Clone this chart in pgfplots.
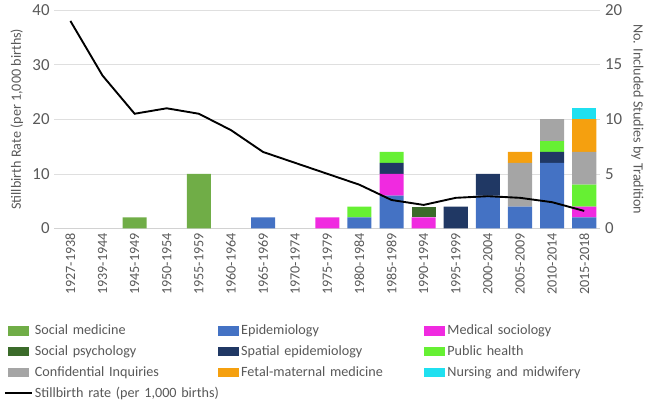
\documentclass[border=0pt]{standalone}
\usepackage{fontspec}
\setmainfont{Carlito}
\usepackage{pgfplots}
\usepackage{pgfplotstable}
\pgfplotsset{compat=1.18}
\definecolor{socmed}{HTML}{70AD47}
\definecolor{epi}{HTML}{4472C4}
\definecolor{medsoc}{HTML}{F02AE0}
\definecolor{socpsy}{HTML}{3B6B2A}
\definecolor{spatial}{HTML}{203864}
\definecolor{pubh}{HTML}{66F033}
\definecolor{confi}{HTML}{A5A5A5}
\definecolor{fetal}{HTML}{F5A00F}
\definecolor{nurse}{HTML}{1FE0F0}
\definecolor{txt}{HTML}{595959}
\pgfplotstableread{
x  sm epi ms sp spa ph ci fm nm rate
0  0  0   0  0  0   0  0  0  0  38
1  0  0   0  0  0   0  0  0  0  28
2  1  0   0  0  0   0  0  0  0  21
3  0  0   0  0  0   0  0  0  0  22
4  5  0   0  0  0   0  0  0  0  21
5  0  0   0  0  0   0  0  0  0  18
6  0  1   0  0  0   0  0  0  0  14
7  0  0   0  0  0   0  0  0  0  12
8  0  0   1  0  0   0  0  0  0  10
9  0  1   0  0  0   1  0  0  0  8
10 0  3   2  0  1   1  0  0  0  5.2
11 0  0   1  1  0   0  0  0  0  4.3
12 0  0   0  0  2   0  0  0  0  5.6
13 0  3   0  0  2   0  0  0  0  5.9
14 0  2   0  0  0   0  4  1  0  5.6
15 0  6   0  0  1   1  2  0  0  4.8
16 0  1   1  0  0   2  3  3  1  3.2
}\data
\begin{document}
\begin{tikzpicture}
\begin{axis}[
  scale only axis, width=405pt, height=162pt,
  xmin=-0.5, xmax=16.5, ymin=0, ymax=20,
  axis y line*=right, axis x line*=bottom,
  y axis line style={draw=none},
  x axis line style={draw=gray!35},
  major tick length=0pt,
  ytick={0,5,10,15,20},
  ymajorgrids, grid style={gray!25},
  ybar stacked, bar width=0.75,
  xtick={0,...,16},
  xticklabels={1927-1938,1939-1944,1945-1949,1950-1954,1955-1959,1960-1964,1965-1969,1970-1974,1975-1979,1980-1984,1985-1989,1990-1994,1995-1999,2000-2004,2005-2009,2010-2014,2015-2018},
  x tick label style={rotate=90, anchor=east, font=\fontsize{10.5}{12}\selectfont, text=txt},
  y tick label style={font=\fontsize{12.5}{14}\selectfont, text=txt},
  /pgf/number format/assume math mode=true,
  ylabel={No. Included Studies by Tradition},
  ylabel style={rotate=180, font=\fontsize{10.5}{12}\selectfont, text=txt},
  legend columns=3,
  legend cell align=left,
  legend style={draw=none, at={(-0.10,-0.42)}, anchor=north west, font=\fontsize{10.5}{12}\selectfont, text=txt,
    nodes={text width=134pt, inner sep=1.5pt}, row sep=3.5pt},
  legend image code/.code={\fill[#1] (0pt,-3.5pt) rectangle (16pt,3.5pt);},
]
\addplot+[fill=socmed, draw=none] table[x=x, y=sm] {\data};
\addplot+[fill=epi, draw=none] table[x=x, y=epi] {\data};
\addplot+[fill=medsoc, draw=none] table[x=x, y=ms] {\data};
\addplot+[fill=socpsy, draw=none] table[x=x, y=sp] {\data};
\addplot+[fill=spatial, draw=none] table[x=x, y=spa] {\data};
\addplot+[fill=pubh, draw=none] table[x=x, y=ph] {\data};
\addplot+[fill=confi, draw=none] table[x=x, y=ci] {\data};
\addplot+[fill=fetal, draw=none] table[x=x, y=fm] {\data};
\addplot+[fill=nurse, draw=none] table[x=x, y=nm] {\data};
\addlegendimage{legend image code/.code={\draw[black, line width=1.4pt] (-2pt,0pt) -- (18pt,0pt);}}
\legend{Social medicine, Epidemiology, Medical sociology, Social psychology, Spatial epidemiology, Public health, Confidential Inquiries, Fetal-maternal medicine, Nursing and midwifery, \makebox[0pt][l]{Stillbirth rate (per 1{,}000 births)}}
\end{axis}
\begin{axis}[
  scale only axis, width=405pt, height=162pt,
  xmin=-0.5, xmax=16.5, ymin=0, ymax=40,
  axis y line*=left, axis x line=none,
  y axis line style={draw=none},
  major tick length=0pt,
  ytick={0,10,20,30,40},
  y tick label style={font=\fontsize{12.5}{14}\selectfont, text=txt},
  /pgf/number format/assume math mode=true,
  ylabel={Stillbirth Rate (per 1,000 births)},
  ylabel style={font=\fontsize{10.5}{12}\selectfont, text=txt},
]
\addplot[black, line width=1.4pt] table[x=x, y=rate] {\data};
\end{axis}
\end{tikzpicture}
\end{document}
